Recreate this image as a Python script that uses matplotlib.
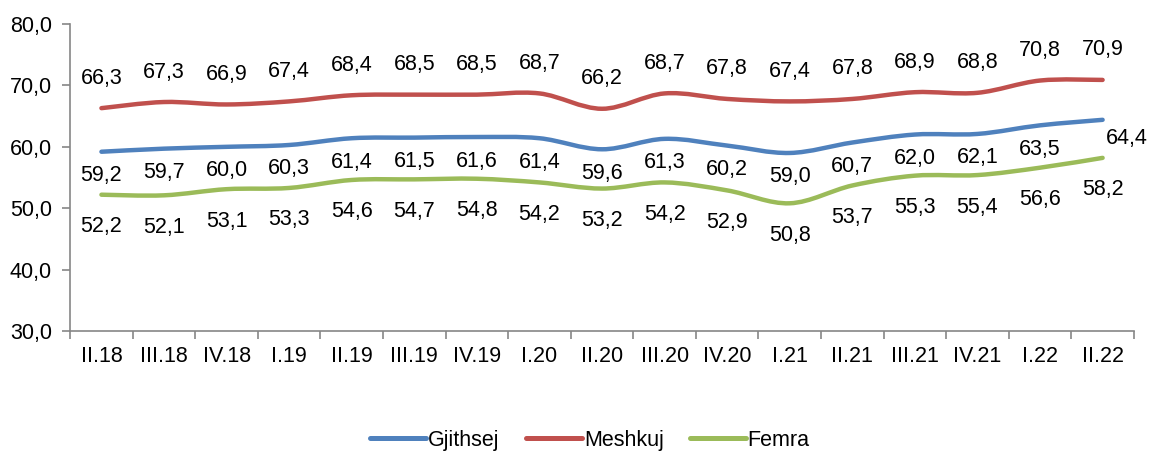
import matplotlib.pyplot as plt
from matplotlib.path import Path
from matplotlib.patches import PathPatch
from matplotlib.lines import Line2D

plt.rcParams['font.family'] = ['Liberation Sans', 'DejaVu Sans']

quarters = ["II.18", "III.18", "IV.18", "I.19", "II.19", "III.19", "IV.19", "I.20",
            "II.20", "III.20", "IV.20", "I.21", "II.21", "III.21", "IV.21", "I.22", "II.22"]
gjithsej = [59.2, 59.7, 60.0, 60.3, 61.4, 61.5, 61.6, 61.4, 59.6, 61.3, 60.2, 59.0,
            60.7, 62.0, 62.1, 63.5, 64.4]
meshkuj = [66.3, 67.3, 66.9, 67.4, 68.4, 68.5, 68.5, 68.7, 66.2, 68.7, 67.8, 67.4,
           67.8, 68.9, 68.8, 70.8, 70.9]
femra = [52.2, 52.1, 53.1, 53.3, 54.6, 54.7, 54.8, 54.2, 53.2, 54.2, 52.9, 50.8,
         53.7, 55.3, 55.4, 56.6, 58.2]

series = [
    ("Gjithsej", gjithsej, "#4F81BD", (0, -24)),
    ("Meshkuj", meshkuj, "#C0504D", (0, 30)),
    ("Femra", femra, "#9BBB59", (0, -32)),
]
FS = 15.5


def smooth_path(xs, ys):
    # Excel-style smoothed line: cubic bezier through each point
    pts = list(zip(xs, ys))
    n = len(pts)
    verts = [pts[0]]
    codes = [Path.MOVETO]
    for i in range(n - 1):
        p0 = pts[max(i - 1, 0)]
        p1 = pts[i]
        p2 = pts[i + 1]
        p3 = pts[min(i + 2, n - 1)]
        c1 = (p1[0] + (p2[0] - p0[0]) / 6, p1[1] + (p2[1] - p0[1]) / 6)
        c2 = (p2[0] - (p3[0] - p1[0]) / 6, p2[1] - (p3[1] - p1[1]) / 6)
        verts += [c1, c2, p2]
        codes += [Path.CURVE4] * 3
    return Path(verts, codes)


fig = plt.figure(figsize=(11.5, 4.54), dpi=100)
ax = fig.add_axes([0.061, 0.271, 0.925, 0.676])

x = list(range(len(quarters)))
handles = []
for name, vals, color, off in series:
    patch = PathPatch(smooth_path(x, vals), facecolor='none', edgecolor=color,
                      lw=3.2, capstyle='round', joinstyle='round')
    ax.add_patch(patch)
    handles.append(Line2D([], [], color=color, lw=3.6, solid_capstyle='round', label=name))
    for i, v in enumerate(vals):
        dx, dy = off
        if name == "Gjithsej" and i == len(vals) - 1:
            dx, dy = 24, -19
        ax.annotate(f"{v:.1f}".replace(".", ","), (i, v), xytext=(dx, dy),
                    textcoords='offset pixels', ha='center', va='center', fontsize=FS)

ax.set_xlim(-0.5, len(quarters) - 0.5)
ax.set_ylim(30, 80)
ax.set_yticks(range(30, 81, 10))
ax.set_yticklabels([f"{t},0" for t in range(30, 81, 10)], fontsize=FS)
ax.set_xticks(x)
ax.set_xticklabels(quarters, fontsize=FS)
ax.set_xticks([i - 0.5 for i in range(len(quarters) + 1)], minor=True)
ax.tick_params(axis='x', which='major', length=0, pad=11)
ax.tick_params(axis='x', which='minor', length=6, color='#868686', width=1.2)
ax.tick_params(axis='y', length=6, color='#868686', width=1.2, pad=7)

for s in ['top', 'right']:
    ax.spines[s].set_visible(False)
for s in ['left', 'bottom']:
    ax.spines[s].set_color('#868686')
    ax.spines[s].set_linewidth(1.2)

fig.legend(handles=handles, loc='center', bbox_to_anchor=(0.513, 0.03), ncol=3,
           frameon=False, fontsize=FS, handlelength=2.6, handletextpad=0.1,
           columnspacing=1.2)

fig.savefig("out.png", dpi=100)
